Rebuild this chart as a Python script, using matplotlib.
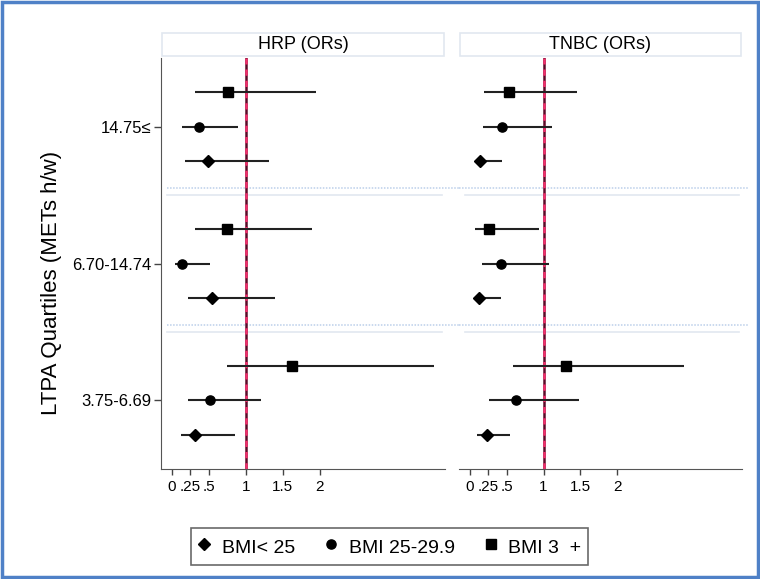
import matplotlib
matplotlib.use("Agg")
import matplotlib.pyplot as plt
from matplotlib.lines import Line2D
from matplotlib.patches import Rectangle

plt.rcParams['font.family'] = ['Liberation Sans', 'DejaVu Sans']

# LTPA quartiles, bottom to top
quartiles = ["3.75-6.69", "6.70-14.74", "14.75\u2264"]
group_base = [1, 5, 9]

panels = ["HRP (ORs)", "TNBC (ORs)"]

# HRP odds ratios and 95% CI per quartile (bottom -> top)
hrp_lt25 = [0.31, 0.54, 0.49]
hrp_lt25_lo = [0.12, 0.21, 0.18]
hrp_lt25_hi = [0.85, 1.39, 1.32]
hrp_25_30 = [0.51, 0.14, 0.36]
hrp_25_30_lo = [0.22, 0.04, 0.14]
hrp_25_30_hi = [1.21, 0.51, 0.89]
hrp_30 = [1.62, 0.75, 0.76]
hrp_30_lo = [0.74, 0.31, 0.31]
hrp_30_hi = [3.55, 1.90, 1.95]

# TNBC odds ratios and 95% CI
tnbc_lt25 = [0.23, 0.12, 0.14]
tnbc_lt25_lo = [0.10, 0.07, 0.09]
tnbc_lt25_hi = [0.54, 0.42, 0.44]
tnbc_25_30 = [0.63, 0.42, 0.44]
tnbc_25_30_lo = [0.26, 0.16, 0.18]
tnbc_25_30_hi = [1.48, 1.07, 1.12]
tnbc_30 = [1.31, 0.26, 0.53]
tnbc_30_lo = [0.59, 0.07, 0.19]
tnbc_30_hi = [2.91, 0.94, 1.46]

x_ticks = [0, 0.25, 0.5, 1, 1.5, 2]
x_tick_labels = ["0", ".25", ".5", "1", "1.5", "2"]

legend_labels = ["BMI< 25", "BMI 25-29.9", "BMI 3  +"]
markers = ["D", "o", "s"]
marker_sizes = [6.2, 6.6, 7.0]

panel_data = [
    [(hrp_lt25, hrp_lt25_lo, hrp_lt25_hi),
     (hrp_25_30, hrp_25_30_lo, hrp_25_30_hi),
     (hrp_30, hrp_30_lo, hrp_30_hi)],
    [(tnbc_lt25, tnbc_lt25_lo, tnbc_lt25_hi),
     (tnbc_25_30, tnbc_25_30_lo, tnbc_25_30_hi),
     (tnbc_30, tnbc_30_lo, tnbc_30_hi)],
]

fig = plt.figure(figsize=(7.6, 5.79), dpi=100)
axes = [fig.add_axes([0.2118, 0.19, 0.3737, 0.7098]),
        fig.add_axes([0.6039, 0.19, 0.3724, 0.7098])]

for p, ax in enumerate(axes):
    for s, (est, lo, hi) in enumerate(panel_data[p]):
        ys = [b + s for b in group_base]
        ax.hlines(ys, lo, hi, color="#222222", lw=1.5, zorder=3)
        ax.plot(est, ys, linestyle="none", marker=markers[s], ms=marker_sizes[s],
                color="black", zorder=4)

    # reference line at OR = 1
    ax.axvline(1, color="#5c0a28", lw=1.8, zorder=2)
    ax.axvline(1, color="#f0306c", lw=1.8, dashes=(2.5, 2), zorder=2)

    # separators between quartile groups
    for yb in [4, 8]:
        ax.axhline(yb + 0.2, xmin=0.02 if p == 0 else 0, xmax=1.05 if p == 0 else 1.02,
                   color="#bcd0ea", lw=1.1, ls=(0, (1, 1)), clip_on=False, zorder=1)
        ax.axhline(yb, xmin=0.02, xmax=0.99, color="#e2e8f0", lw=1.2, zorder=1)

    ax.set_xlim(-0.15, 3.70)
    ax.set_ylim(0, 12)
    ax.set_xticks(x_ticks)
    ax.set_xticklabels(x_tick_labels, fontsize=11)
    ax.tick_params(axis="x", length=4, width=1, color="#444444", pad=4)
    for side in ["top", "right"]:
        ax.spines[side].set_visible(False)
    ax.spines["bottom"].set_color("#555555")
    ax.spines["left"].set_color("#555555")

    # title strip
    gap = 2 / 411
    h = 23 / 411
    ax.add_patch(Rectangle((0.003, 1 + gap), 0.994, h, transform=ax.transAxes,
                           facecolor="white", edgecolor="#e1e8f0", lw=1.2, clip_on=False))
    ax.text(0.5, 1 + gap + h / 2, panels[p], transform=ax.transAxes,
            ha="center", va="center", fontsize=13)

axes[0].set_yticks([b + 1 for b in group_base])
axes[0].set_yticklabels(quartiles, fontsize=12)
axes[0].tick_params(axis="y", length=5, width=1, color="#444444", pad=2)
axes[1].spines["left"].set_visible(False)
axes[1].set_yticks([])

fig.text(0.068, 0.512, "LTPA Quartiles (METs h/w)", rotation=90,
         ha="center", va="center", fontsize=16)

handles = [Line2D([], [], linestyle="none", marker=m, color="black", ms=ms)
           for m, ms in zip(markers, marker_sizes)]
leg = fig.legend(handles, legend_labels, loc="center", bbox_to_anchor=(0.5125, 0.0561),
                 ncol=3, fontsize=14, frameon=True, fancybox=False, handlelength=0.7,
                 handletextpad=0.55, columnspacing=1.5, borderpad=0.35, handleheight=1.4)
leg.get_frame().set_edgecolor("#444444")
leg.get_frame().set_linewidth(1.2)

# outer frame
fig.add_artist(Rectangle((0.003, 0.004), 0.994, 0.992, transform=fig.transFigure,
                         facecolor="none", edgecolor="#4f81c7", lw=2.5))

fig.savefig("out.png", dpi=100)
